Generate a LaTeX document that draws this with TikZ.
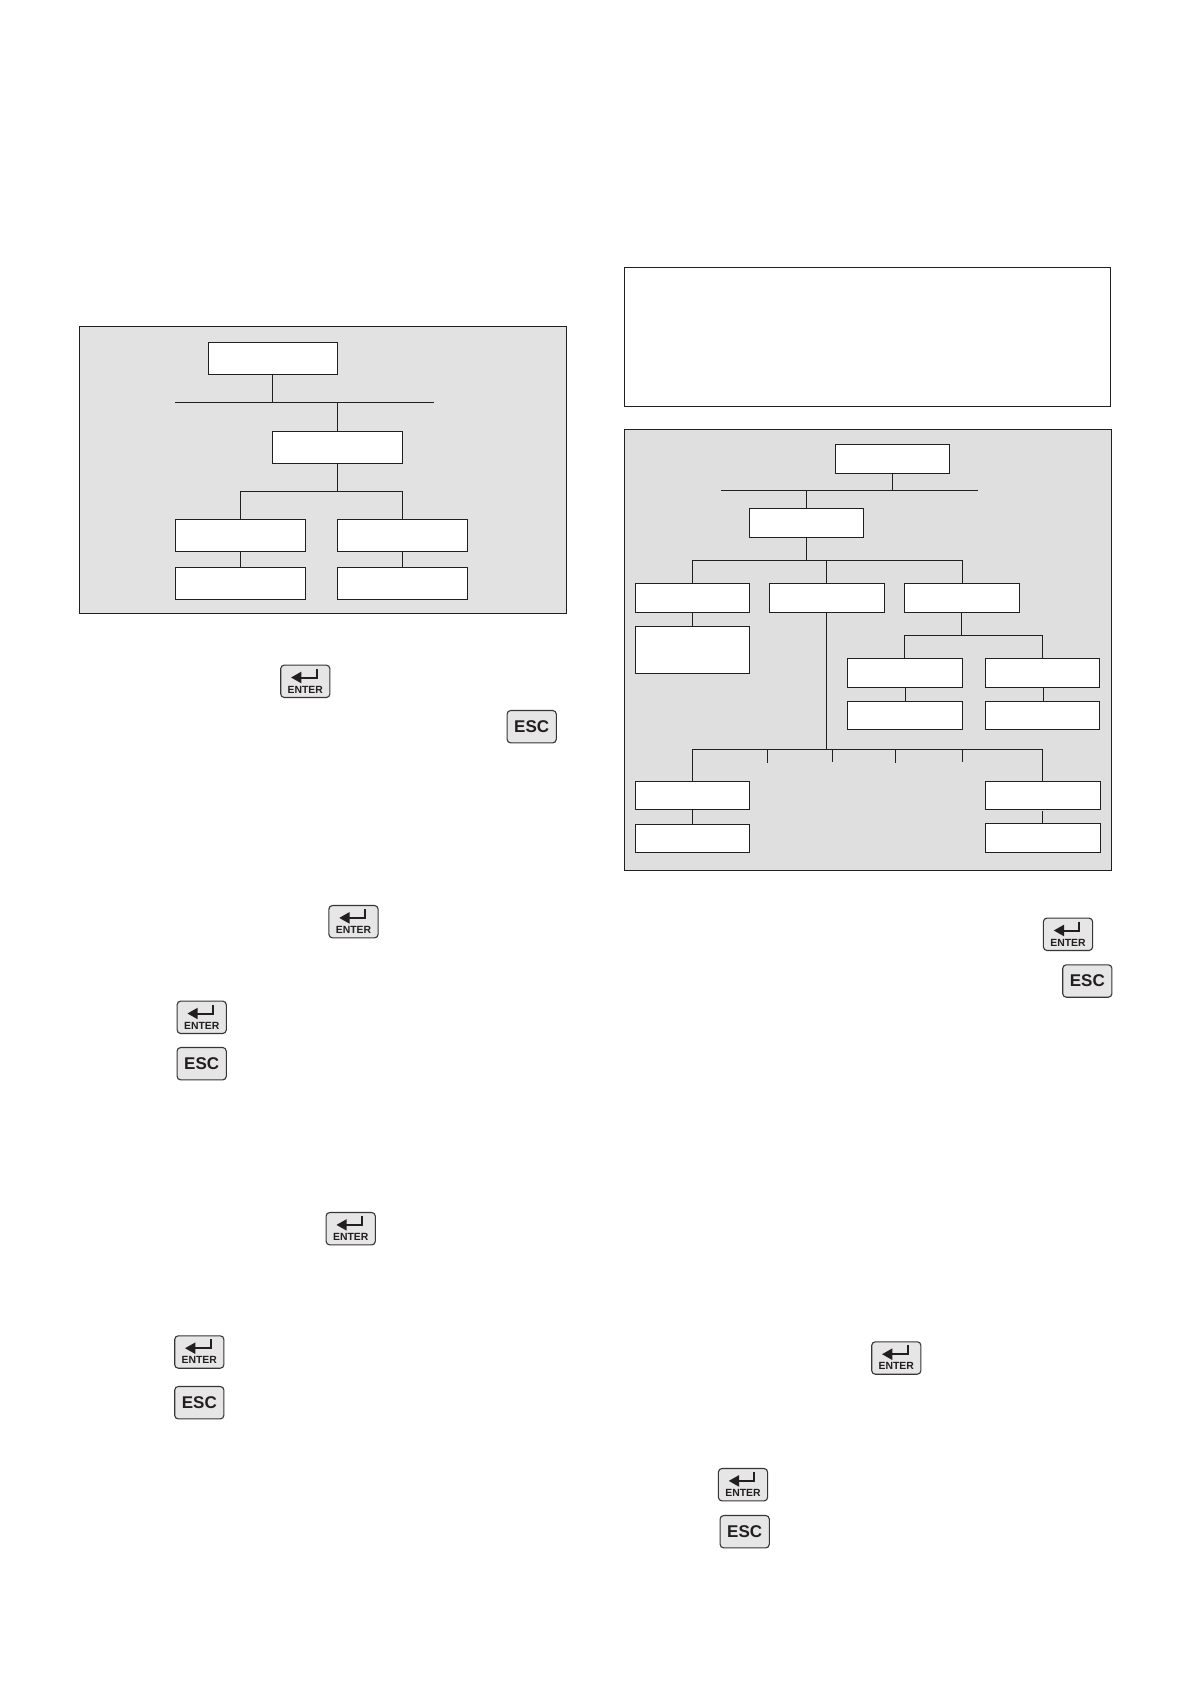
\documentclass[tikz,border=0pt]{standalone}
\usepackage{fontspec}
\setmainfont{Liberation Sans}
\definecolor{panelL}{HTML}{E2E2E2}
\definecolor{panelR}{HTML}{DFDFDF}
\definecolor{ink}{HTML}{231F20}
\definecolor{keyfill}{HTML}{E6E6E6}
\tikzset{
  x=0.5pt,y=-0.5pt,
  link/.style={draw=ink,line width=0.7pt},
  whitebox/.style={draw=ink,fill=white,line width=0.7pt,inner sep=0pt,outer sep=0pt},
  panelbox/.style={draw=ink,line width=0.7pt,inner sep=0pt,outer sep=0pt},
  keycap/.style={draw=ink!90,fill=keyfill,line width=0.55pt,rounded corners=1.8pt,
    minimum width=24.6pt,minimum height=16.2pt,inner sep=0pt,outer sep=0pt},
  enterlabel/.style={font=\bfseries\fontsize{5.2}{5.2}\selectfont,text=ink,inner sep=0pt},
  esclabel/.style={font=\bfseries\fontsize{8.5}{8.5}\selectfont,text=ink},
  enterstroke/.style={draw=ink,line width=1pt},
  enterhead/.style={fill=ink},
}
% \rbox{name}{style}{x1}{y1}{x2}{y2}
\newcommand{\rbox}[6]{%
  \node[#2,minimum width={(#5-#3)*0.5pt},minimum height={(#6-#4)*0.5pt}] (#1) at ({(#3+#5)/2},{(#4+#6)/2}) {};}
\newcommand{\enterkey}[3]{%
  \node[keycap] (#1) at (#2,#3) {};
  \node[enterlabel] (#1t) at ([yshift=-4.2pt]#1.center) {ENTER};
  \coordinate (#1a) at ([xshift=5.7pt,yshift=6.3pt]#1.center);
  \coordinate (#1b) at ([xshift=5.7pt,yshift=1.9pt]#1.center);
  \coordinate (#1c) at ([xshift=-2.4pt,yshift=1.9pt]#1.center);
  \draw[enterstroke] (#1a) -- (#1b) -- (#1c);
  \fill[enterhead] ([xshift=-7.1pt,yshift=1.9pt]#1.center) -- ([xshift=-2pt,yshift=4.8pt]#1.center) -- ([xshift=-2pt,yshift=-1pt]#1.center) -- cycle;}
\newcommand{\esckey}[3]{%
  \node[keycap,esclabel] (#1) at (#2,#3) {ESC};}
\begin{document}
\begin{tikzpicture}
\useasboundingbox (0,0) rectangle (1191,1684);
\fill[white] (0,0) rectangle (1191,1684);

% left panel
\rbox{PL}{panelbox,fill=panelL}{79.3}{326.3}{566.7}{613.3}
\rbox{LA}{whitebox}{208.3}{342.3}{337.7}{374.3}
\rbox{LB}{whitebox}{272.3}{431.3}{402.7}{463.7}
\rbox{LC1}{whitebox}{175.3}{519.3}{305.7}{551.7}
\rbox{LC2}{whitebox}{337.3}{519.3}{467.7}{551.7}
\rbox{LD1}{whitebox}{175.3}{567.3}{305.7}{599.3}
\rbox{LD2}{whitebox}{337.3}{567.3}{467.7}{599.3}
\coordinate (Lbus1a) at (175,402.3);
\coordinate (Lbus1b) at (434,402.3);
\coordinate (Lj1) at (272.3,402.3);
\coordinate (Lj2) at (337.3,402.3);
\coordinate (Lj3) at (337.3,491.7);
\coordinate (Lbr1) at (240.5,491.7);
\coordinate (Lbr2) at (402.5,491.7);
\draw[link] (Lbus1a) -- (Lbus1b);
\draw[link] (Lj1 |- LA.south) -- (Lj1);
\draw[link] (Lj2) -- (Lj2 |- LB.north);
\draw[link] (Lj3 |- LB.south) -- (Lj3);
\draw[link] (LC1.north) -- (Lbr1) -- (Lbr2) -- (LC2.north);
\draw[link] (LC1.south) -- (LD1.north);
\draw[link] (LC2.south) -- (LD2.north);

% top-right plain box
\rbox{TR}{whitebox}{624.3}{267.3}{1110.7}{406.7}

% right panel
\rbox{PR}{panelbox,fill=panelR}{624.3}{429.3}{1111.7}{870.3}
\rbox{RA}{whitebox}{835.3}{444.3}{949.7}{473.7}
\rbox{RB}{whitebox}{749.3}{508.3}{863.7}{537.7}
\rbox{Rb1}{whitebox}{635.3}{583.3}{749.7}{612.7}
\rbox{Rb2}{whitebox}{769.3}{583.3}{884.7}{612.7}
\rbox{Rb3}{whitebox}{904.3}{583.3}{1019.7}{612.7}
\rbox{Rb4}{whitebox}{635.3}{626.3}{749.7}{673.7}
\rbox{Rc1}{whitebox}{847.3}{658.3}{962.7}{687.7}
\rbox{Rc2}{whitebox}{985.3}{658.3}{1099.7}{687.7}
\rbox{Rd1}{whitebox}{847.3}{701.3}{962.7}{729.7}
\rbox{Rd2}{whitebox}{985.3}{701.3}{1099.7}{729.7}
\rbox{Re1}{whitebox}{635.3}{781.3}{749.7}{809.7}
\rbox{Rf1}{whitebox}{635.3}{824.3}{749.7}{852.7}
\rbox{Re2}{whitebox}{985.3}{781.3}{1100.7}{809.7}
\rbox{Rf2}{whitebox}{985.3}{823.3}{1100.7}{852.7}

\coordinate (Rbusa) at (721,490.3);
\coordinate (Rbusb) at (978,490.3);
\coordinate (Rj1) at (892.3,490.3);
\coordinate (Rj2) at (806.3,490.3);
\coordinate (Rj3) at (806.3,560.3);
\coordinate (Rbr1) at (692.5,560.3);
\coordinate (Rbr2) at (826.3,560.3);
\coordinate (Rbr3) at (962.3,560.3);
\draw[link] (Rbusa) -- (Rbusb);
\draw[link] (Rj1 |- RA.south) -- (Rj1);
\draw[link] (Rj2) -- (Rj2 |- RB.north);
\draw[link] (Rj3 |- RB.south) -- (Rj3);
\draw[link] (Rb1.north) -- (Rbr1) -- (Rbr3) -- (Rbr3 |- Rb3.north);
\draw[link] (Rbr2) -- (Rbr2 |- Rb2.north);
\draw[link] (Rb1.south) -- (Rb4.north);
\coordinate (Rk1) at (961.3,635.3);
\coordinate (Rk2) at (904.5,635.3);
\coordinate (Rk3) at (1042.3,635.3);
\draw[link] (Rk1 |- Rb3.south) -- (Rk1);
\draw[link] (Rk2 |- Rc1.north) -- (Rk2) -- (Rk3) -- (Rk3 |- Rc2.north);
\coordinate (Rs1) at (905.3,0);
\coordinate (Rs2) at (1043.3,0);
\draw[link] (Rs1 |- Rc1.south) -- (Rs1 |- Rd1.north);
\draw[link] (Rs2 |- Rc2.south) -- (Rs2 |- Rd2.north);
% lower bus
\coordinate (Rm) at (826.3,749.3);
\coordinate (Rm1) at (692.5,749.3);
\coordinate (Rm2) at (1042.3,749.3);
\draw[link] (Rm |- Rb2.south) -- (Rm);
\draw[link] (Re1.north) -- (Rm1) -- (Rm2) -- (Rm2 |- Re2.north);
\draw[link] (Re1.south) -- (Rf1.north);
\coordinate (Rs3) at (1042.3,811);
\draw[link] (Rs3) -- (Rs3 |- Rf2.north);
% stub ticks
\coordinate (Rt1a) at (767.7,749.3); \coordinate (Rt1b) at (767.7,763);
\coordinate (Rt2a) at (832.3,749.3); \coordinate (Rt2b) at (832.3,762);
\coordinate (Rt3a) at (895.3,749.3); \coordinate (Rt3b) at (895.3,763);
\coordinate (Rt4a) at (962.3,749.3); \coordinate (Rt4b) at (962.3,762);
\draw[link] (Rt1a) -- (Rt1b);
\draw[link] (Rt2a) -- (Rt2b);
\draw[link] (Rt3a) -- (Rt3b);
\draw[link] (Rt4a) -- (Rt4b);

% keys
\enterkey{k1}{305.3}{681.3}
\esckey{k2}{531.7}{726.7}
\enterkey{k3}{353.5}{921.7}
\enterkey{k4}{201.7}{1017.3}
\esckey{k5}{201.7}{1063.7}
\enterkey{k6}{350.7}{1228.7}
\enterkey{k7}{199.3}{1352}
\esckey{k8}{199.3}{1402.7}
\enterkey{k9}{1068}{934.3}
\esckey{k10}{1087.3}{981}
\enterkey{k11}{896.3}{1358}
\enterkey{k12}{743}{1484.7}
\esckey{k13}{744.7}{1531.7}
\end{tikzpicture}
\end{document}
